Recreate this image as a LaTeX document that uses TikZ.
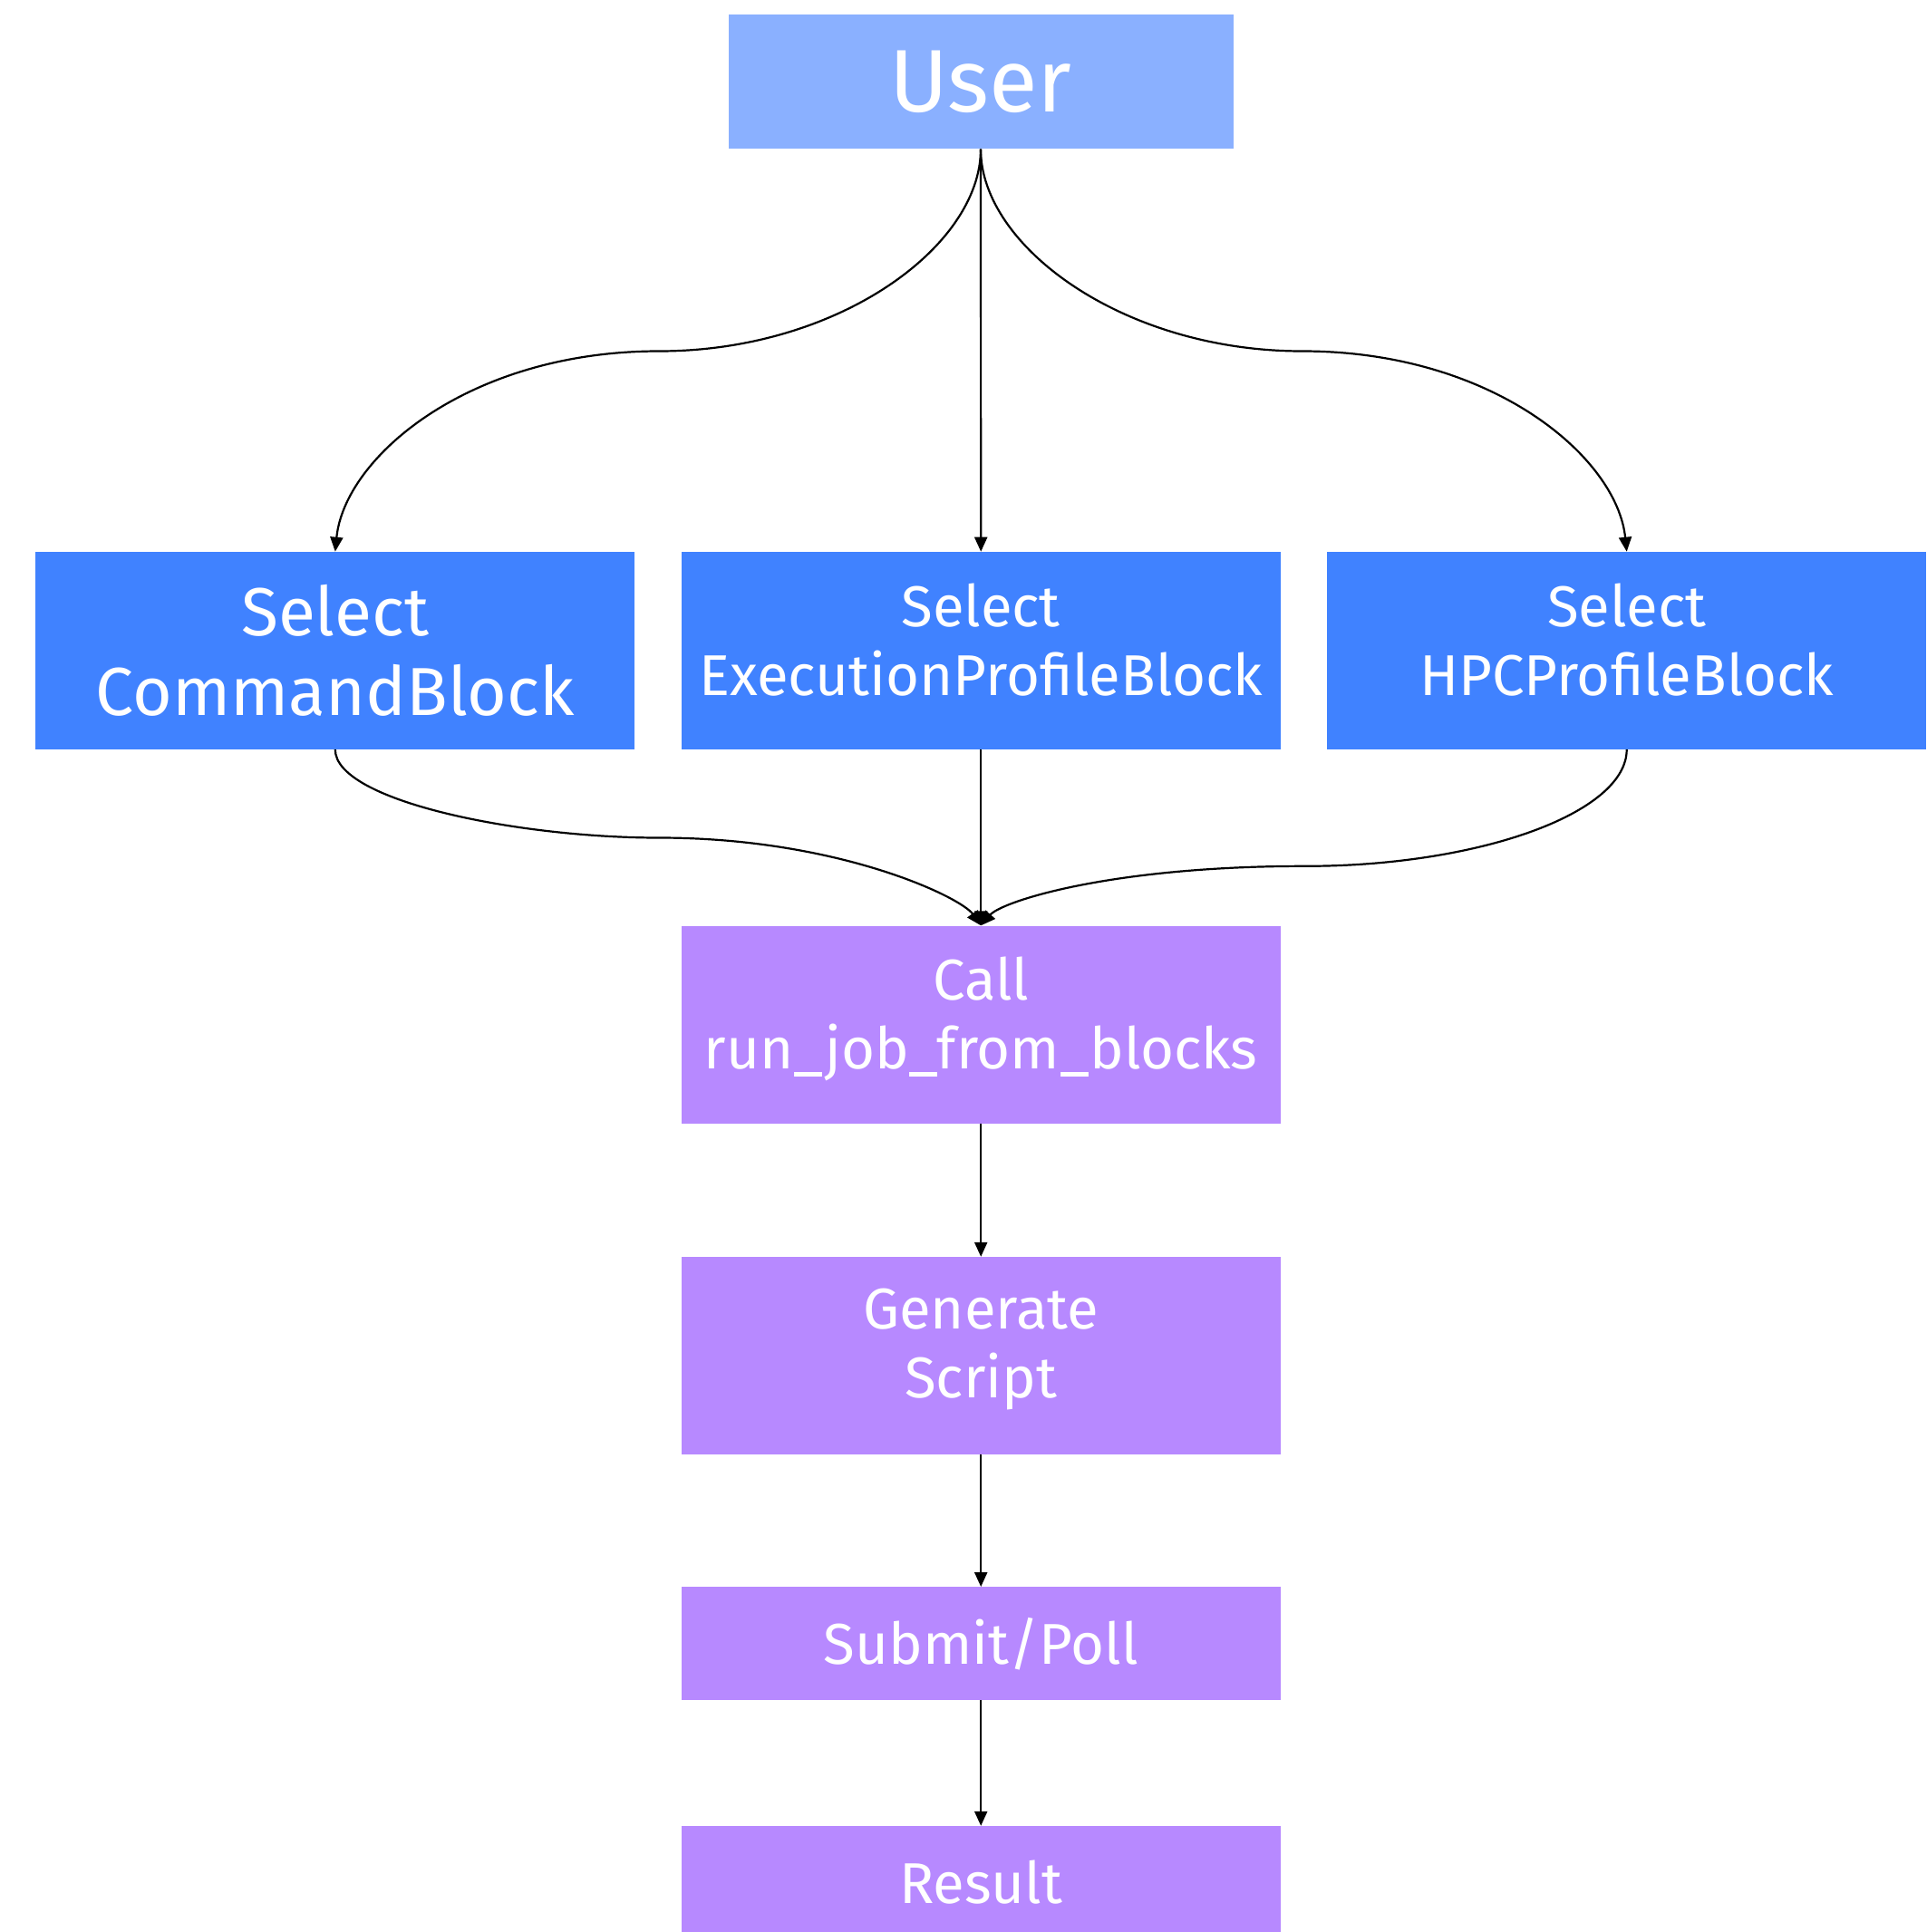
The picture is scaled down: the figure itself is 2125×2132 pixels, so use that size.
\documentclass[tikz,border=0pt]{standalone}
\usepackage{fontspec}
\setmainfont{Fira Sans}
\usetikzlibrary{arrows.meta}
\definecolor{userblue}{RGB}{138,176,255}
\definecolor{selblue}{RGB}{64,130,255}
\definecolor{procpurple}{RGB}{183,137,255}
\newcommand{\uptext}[2]{\raisebox{#1}[\height][\depth]{\parbox{640pt}{\centering #2}}}
\tikzset{
  base/.style={rectangle, inner sep=0pt, text=white, align=center, minimum width=661pt, minimum height=218pt},
  userbox/.style={base, fill=userblue, minimum width=557pt, minimum height=148pt, font=\fontsize{98}{110}\selectfont},
  selbox/.style={base, fill=selblue, font=\fontsize{63.5}{76}\selectfont},
  cmdbox/.style={base, fill=selblue, font=\fontsize{75}{88}\selectfont},
  procbox/.style={base, fill=procpurple, font=\fontsize{63.5}{76}\selectfont},
  shortbox/.style={procbox, minimum height=125pt},
  conn/.style={draw=black, line width=2.2pt, -{Triangle[length=16pt,width=14pt]}}
}
\begin{document}
\begin{tikzpicture}[x=1pt,y=-1pt]
\useasboundingbox (0,0) rectangle (2125,2132);
\clip (0,0) rectangle (2125,2132);
\node[userbox] (user) at (1082,90.4) {User};
\node[cmdbox] (cmd) at (369.8,717.9) {\uptext{0pt}{Select\\CommandBlock}};
\node[selbox] (exec) at (1082.2,717.9) {\uptext{12pt}{Select\\ExecutionProfileBlock}};
\node[selbox] (hpc) at (1794.7,717.9) {\uptext{12pt}{Select\\HPCProfileBlock}};
\node[procbox] (call) at (1082.2,1130.5) {\uptext{6pt}{Call\\run\_job\_from\_blocks}};
\node[procbox] (gen) at (1082.2,1496) {\uptext{7pt}{Generate\\Script}};
\node[shortbox] (sub) at (1082.2,1813.7) {Submit/Poll};
\node[shortbox] (res) at (1082.2,2077.5) {Result};
\coordinate (ml) at (727.4,387.5);
\coordinate (mr) at (1436.6,387.5);
\coordinate (bl) at (727.4,924.5);
\coordinate (br) at (1439.8,955.8);
\draw[conn] (user.south) .. controls (1082,272) and (924.5,387.5) .. (ml)
  .. controls (516.6,387.5) and (380,505) .. (cmd.north);
\draw[conn] (user.south) .. controls (1082,272) and (1239.5,387.5) .. (mr)
  .. controls (1647.4,387.5) and (1784,505) .. (hpc.north);
\draw[conn] (user.south) -- (exec.north);
\draw[conn] (cmd.south) .. controls (369.8,883.7) and (571,924.5) .. (bl)
  .. controls (924.5,924.5) and (1060,990) .. (call.north);
\draw[conn] (hpc.south) .. controls (1794.7,897.3) and (1631.5,955.8) .. (br)
  .. controls (1223.6,955.8) and (1105,995) .. (call.north);
\draw[conn] (exec.south) -- (call.north);
\draw[conn] (call.south) -- (gen.north);
\draw[conn] (gen.south) -- (sub.north);
\draw[conn] (sub.south) -- (res.north);
\end{tikzpicture}
\end{document}
